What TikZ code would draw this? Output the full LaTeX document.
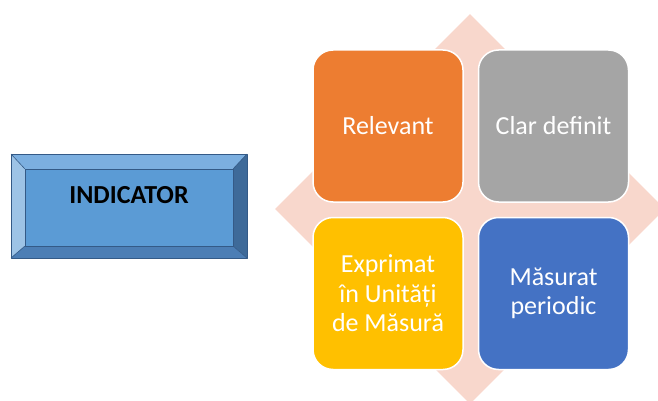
\documentclass[tikz,border=0pt]{standalone}
\usepackage{fontspec}
\setmainfont{Carlito}
\usepackage{tikz}
\usetikzlibrary{positioning,calc,shapes.geometric}
\definecolor{peach}{RGB}{248,215,204}
\definecolor{qorange}{RGB}{237,125,49}
\definecolor{qgray}{RGB}{165,165,165}
\definecolor{qyellow}{RGB}{255,192,0}
\definecolor{qblue}{RGB}{68,114,196}
\definecolor{bface}{RGB}{91,155,213}
\definecolor{btop}{RGB}{124,175,224}
\definecolor{bleft}{RGB}{157,195,230}
\definecolor{bright}{RGB}{62,106,153}
\definecolor{bbottom}{RGB}{76,126,181}
\definecolor{bline}{RGB}{52,90,135}
\tikzset{quad/.style={draw=white, line width=1.5pt, rounded corners=20pt, minimum width=150pt, minimum height=152pt, text=white, align=center, inner sep=0pt, font=\fontsize{26}{29.5}\selectfont},
  bevel/.style={draw=bline, line width=0.6pt, line join=round}}

\begin{document}
\begin{tikzpicture}[x=1pt, y=-1pt, node distance=14pt]
    \useasboundingbox (0,0) rectangle (658,401);
    \clip (0,0) rectangle (658,401);

    % background diamond
    \node[diamond, fill=peach, minimum width=390pt, minimum height=390pt, inner sep=0pt] (bg) at (470,209) {};

    % the four quadrants
    \node[quad, fill=qorange]               (rel) at (388,126) {Relevant};
    \node[quad, fill=qgray, right=of rel]   (clar) {Clar definit};
    \node[quad, fill=qyellow, below=of rel] (expr) {Exprimat\\în Unități\\de Măsură};
    \node[quad, fill=qblue, right=of expr]  (mas) {Măsurat\\periodic};

    % bevelled indicator button
    \node[fill=bface, minimum width=208pt, minimum height=77pt, inner sep=0pt] (ind) at (129,207.5) {};
    \coordinate (o1) at (11,154);
    \coordinate (o2) at (247,154);
    \coordinate (o3) at (247,258);
    \coordinate (o4) at (11,258);
    \fill[btop]    (o1) -- (o2) -- (ind.north east) -- (ind.north west) -- cycle;
    \fill[bleft]   (o1) -- (ind.north west) -- (ind.south west) -- (o4) -- cycle;
    \fill[bright]  (o2) -- (o3) -- (ind.south east) -- (ind.north east) -- cycle;
    \fill[bbottom] (o4) -- (ind.south west) -- (ind.south east) -- (o3) -- cycle;
    \draw[bevel] (o1) -- (ind.north west) (o2) -- (ind.north east)
                 (o3) -- (ind.south east) (o4) -- (ind.south west);
    \draw[bevel] (ind.north west) rectangle (ind.south east);
    \draw[bevel] (o1) rectangle (o3);
    \node[font=\fontsize{26}{30}\selectfont\bfseries] (indtext) at ($(ind.center)+(0,-12.5)$) {INDICATOR};
\end{tikzpicture}
\end{document}
